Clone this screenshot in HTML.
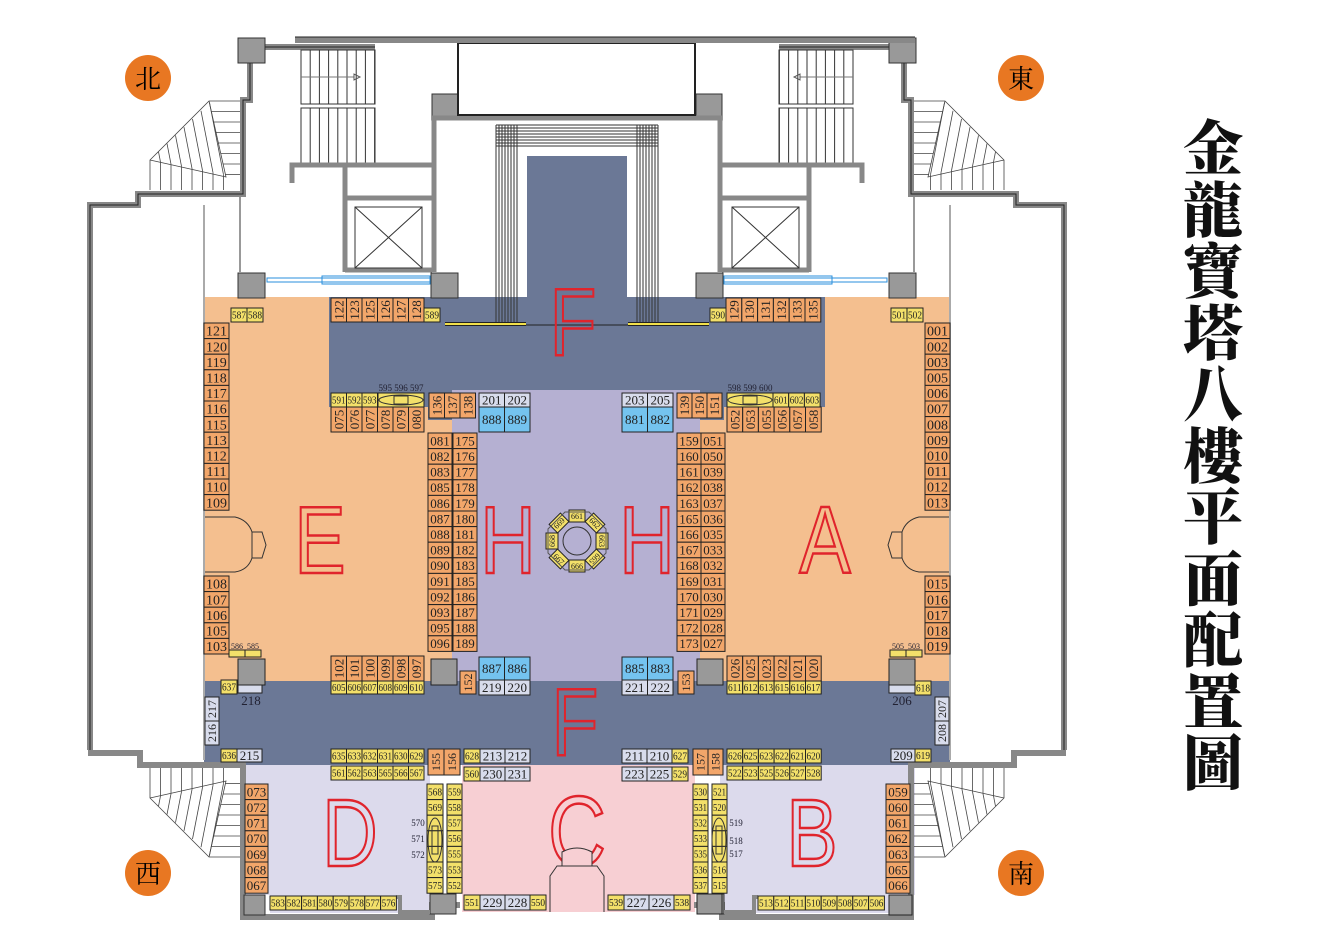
<!DOCTYPE html>
<html><head><meta charset="utf-8"><style>
html,body{margin:0;padding:0;background:#fff;}
#t{position:absolute;left:1178px;top:120px;width:70px;font-family:"Liberation Serif","Noto Serif CJK SC",serif;font-weight:900;font-size:60px;line-height:61.5px;text-align:center;color:#111;}
</style></head><body>
<svg id="s" width="1343" height="948" viewBox="0 0 1343 948" xmlns="http://www.w3.org/2000/svg" style="position:absolute;left:0;top:0;font-family:'Liberation Serif',serif">
<rect x="204" y="297" width="248" height="384" fill="#f4bf8f"/>
<rect x="700" y="297" width="250" height="384" fill="#f4bf8f"/>
<rect x="329" y="297" width="496" height="110" fill="#6b7896"/>
<rect x="428" y="405" width="50" height="15" fill="#6b7896"/>
<rect x="676" y="405" width="48" height="15" fill="#6b7896"/>
<rect x="452" y="390" width="248" height="291" fill="#b5b0d2"/>
<rect x="527" y="156" width="100" height="142" fill="#6b7896"/>
<rect x="204" y="681" width="746" height="84" fill="#6b7896"/>
<rect x="245" y="765" width="185" height="130" fill="#dcdaec"/>
<rect x="462" y="765" width="233" height="147" fill="#f7cfd3"/>
<rect x="720" y="765" width="195" height="130" fill="#dcdaec"/>
<rect x="270" y="893" width="160" height="20" fill="#dcdaec"/>
<rect x="722" y="893" width="167" height="20" fill="#dcdaec"/>
<g id="half" fill="none" stroke="#333" stroke-width="1">
 <polyline points="90,750 90,205 138,205 138,194 243,194 243,100 250,100 250,47 375,47" stroke="#888" stroke-width="6" fill="none"/>
 <polyline points="90,750 90,205 138,205 138,194 243,194 243,100 250,100 250,47 375,47" stroke="#222" stroke-width="1" fill="none"/>
 <polyline points="88,753 140,753 140,765 243,765 243,917 432,917 432,905 460,905" stroke="#888" stroke-width="6" fill="none"/>
 <line x1="204" y1="205" x2="204" y2="760" stroke="#aaa" stroke-width="2"/>
 <line x1="240" y1="197" x2="240" y2="272" stroke="#333"/>
 <rect x="238" y="38" width="27" height="25" fill="#999" stroke="#333"/>
 <rect x="301" y="50" width="74" height="54" fill="#fff"/>
 <rect x="301" y="108" width="74" height="55" fill="#fff"/>
 <g id="stl"></g>
 <line x1="301" y1="77" x2="354" y2="77" stroke="#777"/>
 <polygon points="354,74 354,80 360,77" fill="none" stroke="#555"/>
 <polyline points="292,183 292,165 432,165" stroke="#888" stroke-width="5"/>
 <line x1="345" y1="165" x2="345" y2="272" stroke="#888" stroke-width="5"/>
 <line x1="345" y1="198" x2="432" y2="198" stroke="#888" stroke-width="5"/>
 <line x1="345" y1="270" x2="432" y2="270" stroke="#888" stroke-width="5"/>
 <line x1="434" y1="120" x2="434" y2="272" stroke="#888" stroke-width="5"/>
 <rect x="355" y="207" width="67" height="61" fill="#fff"/>
 <line x1="355" y1="207" x2="422" y2="268"/><line x1="422" y1="207" x2="355" y2="268"/>
 <rect x="238" y="273" width="27" height="25" fill="#999"/>
 <rect x="431" y="273" width="27" height="25" fill="#999"/>
 <rect x="267" y="278" width="163" height="4" stroke="#2a8fdc"/>
 <rect x="322" y="276" width="108" height="8" stroke="#2a8fdc"/>
 <rect x="432" y="94" width="26" height="26" fill="#999"/>
 <line x1="432" y1="118" x2="577" y2="118" stroke="#888" stroke-width="5"/>
 <g id="cur"></g>
 <line x1="445" y1="324" x2="526" y2="324" stroke="#222" stroke-width="4"/>
 <line x1="445" y1="324" x2="526" y2="324" stroke="#f2e04a" stroke-width="2"/>
 <line x1="526" y1="325" x2="577" y2="325" stroke="#222"/>
 <g id="fan" stroke="#444" stroke-width="0.8"></g>
 <path d="M205,517 L235,517 Q248,520 252,532 L262,532 L266,545 L262,558 L252,558 Q248,570 235,572 L205,572" stroke="#333"/>
 <line x1="252" y1="532" x2="252" y2="558"/>
 <rect x="244" y="895" width="21" height="20" fill="#999"/>
 <rect x="430" y="894" width="26" height="20" fill="#999"/>
 <polyline points="396,897 400,897 400,912 430,912" stroke="#888" stroke-width="4"/>
</g>
<use href="#half" transform="translate(1154,0) scale(-1,1)"/>
<rect x="458" y="43" width="237" height="72" fill="#fff" stroke="#222" stroke-width="2"/>
<line x1="295" y1="40" x2="915" y2="40" stroke="#888" stroke-width="6"/>
<line x1="295" y1="37" x2="915" y2="37" stroke="#222" stroke-width="1"/>
<g id="cells"></g>
<polygon points="565,512 589,512 606,529 606,553 589,570 565,570 548,553 548,529" fill="none" stroke="#555"/>
<circle cx="577" cy="541" r="14" fill="#b5b0d2" stroke="#333"/>
<g fill="none" stroke="#e0242c" stroke-width="2.5" font-family="Liberation Sans,sans-serif" font-size="96" text-anchor="middle">
<text x="320" y="573" transform="translate(320,0) scale(0.8,1) translate(-320,0)">E</text>
<text x="508" y="573" transform="translate(508,0) scale(0.8,1) translate(-508,0)">H</text>
<text x="647" y="573" transform="translate(647,0) scale(0.8,1) translate(-647,0)">H</text>
<text x="825" y="573" transform="translate(825,0) scale(0.8,1) translate(-825,0)">A</text>
<text x="573" y="355" transform="translate(573,0) scale(0.8,1) translate(-573,0)">F</text>
<text x="575" y="755" transform="translate(575,0) scale(0.8,1) translate(-575,0)">F</text>
<text x="350" y="866" transform="translate(350,0) scale(0.8,1) translate(-350,0)">D</text>
<text x="577" y="866" font-size="100" transform="translate(577,0) scale(0.8,1) translate(-577,0)">C</text>
<text x="812" y="866" transform="translate(812,0) scale(0.8,1) translate(-812,0)">B</text>
</g>
<path d="M562,866 L562,852 Q577,844 592,852 L592,866 L562,866 M550,912 L550,876 L557,866 L597,866 L604,876 L604,912" fill="#f7cfd3" stroke="#333"/>
<g font-family="Liberation Serif,'Noto Serif CJK SC',serif" font-size="26" text-anchor="middle">
<circle cx="148" cy="78" r="23" fill="#e87722"/><text x="148" y="88">北</text>
<circle cx="1021" cy="78" r="23" fill="#e87722"/><text x="1021" y="88">東</text>
<circle cx="148" cy="873" r="23" fill="#e87722"/><text x="148" y="883">西</text>
<circle cx="1021" cy="873" r="23" fill="#e87722"/><text x="1021" y="883">南</text>
</g>
</svg>
<div id="t">金<br>龍<br>寶<br>塔<br>八<br>樓<br>平<br>面<br>配<br>置<br>圖</div>
<script>
var NS="http://www.w3.org/2000/svg";
function el(p,n,a,t){var e=document.createElementNS(NS,n);for(var k in a)e.setAttribute(k,a[k]);if(t!==undefined)e.textContent=t;p.appendChild(e);return e;}
var G=document.getElementById("cells");
var O="#f2a66a",Y="#f3e06a",L="#d8dcec",B="#74c3ef";
function cell(x,y,w,h,lab,f,fs,rot){
 el(G,"rect",{x:x,y:y,width:w,height:h,fill:f,stroke:"#222","stroke-width":1});
 if(lab==="")return;
 var cx=x+w/2,cy=y+h/2;
 var a={x:cx,y:cy+fs*0.35,"font-size":fs,"text-anchor":"middle",fill:"#222"};
 if(rot)a.transform="rotate(-90 "+cx+" "+cy+")";
 if(f==Y){a.textLength=Math.min(rot?h-2:w-2,fs*1.6);a.lengthAdjust="spacingAndGlyphs";}
 el(G,"text",a,lab);
}
function col(x,y,w,h,labs,f,fs){labs.forEach(function(l,i){cell(x,y+i*h,w,h,l,f,fs,false);});}
function row(x,y,w,h,labs,f,fs,rot){labs.forEach(function(l,i){cell(x+i*w,y,w,h,l,f,fs,rot);});}
function txt(x,y,s,fs){el(G,"text",{x:x,y:y,"font-size":fs,"text-anchor":"middle",fill:"#223"},s);}
var sh=15.6;
col(204,323,25,sh,["121","120","119","118","117","116","115","113","112","111","110","109"],O,14);
col(204,576,25,sh,["108","107","106","105","103"],O,14);
col(925,323,25,sh,["001","002","003","005","006","007","008","009","010","011","012","013"],O,14);
col(925,576,25,sh,["015","016","017","018","019"],O,14);
row(231,308,16,14,["587","588"],Y,10);
row(891,308,16,14,["501","502"],Y,10);
row(331,298,15.5,24,["122","123","125","126","127","128"],O,13,true);
cell(424,308,16,14,"589",Y,10);
cell(710,308,16,14,"590",Y,10);
row(726,298,15.8,24,["129","130","131","132","133","135"],O,13,true);
row(331,393,15.5,14,["591","592","593"],Y,10);
cell(378,393,46,14,"",Y,10);
el(G,"ellipse",{cx:401,cy:400,rx:22,ry:5,fill:"none",stroke:"#333"});
el(G,"rect",{x:394,y:396,width:14,height:8,fill:"none",stroke:"#333"});
txt(401,391,"595 596 597",9);
row(331,407,15.5,25,["075","076","077","078","079","080"],O,13,true);
cell(727,393,46,14,"",Y,10);
el(G,"ellipse",{cx:750,cy:400,rx:22,ry:5,fill:"none",stroke:"#333"});
el(G,"rect",{x:743,y:396,width:14,height:8,fill:"none",stroke:"#333"});
txt(750,391,"598 599 600",9);
row(773,393,15.7,14,["601","602","603"],Y,10);
row(727,407,15.7,25,["052","053","055","056","057","058"],O,13,true);
row(429,393,15.5,25,["136","137","138"],O,13,true);
row(677,393,15,25,["139","150","151"],O,13,true);
row(479,393,25.5,14,["201","202"],L,13);
row(479,407,25.5,25,["888","889"],B,13);
row(622,393,25.5,14,["203","205"],L,13);
row(622,407,25.5,25,["881","882"],B,13);
col(428,433,24,sh,["081","082","083","085","086","087","088","089","090","091","092","093","095","096"],O,13);
col(453,433,24,sh,["175","176","177","178","179","180","181","182","183","185","186","187","188","189"],O,13);
col(677,433,24,sh,["159","160","161","162","163","165","166","167","168","169","170","171","172","173"],O,13);
col(701,433,24,sh,["051","050","039","038","037","036","035","033","032","031","030","029","028","027"],O,13);
row(479,657,25.5,23,["887","886"],B,13);
row(479,680,25.5,15,["219","220"],L,13);
row(622,657,25.5,23,["885","883"],B,13);
row(622,680,25.5,15,["221","222"],L,13);
cell(431,659,26,26,"","#999",10);cell(697,659,26,26,"","#999",10);
cell(460,671,16,23,"152",O,12,true);cell(678,671,16,23,"153",O,12,true);
row(331,656,15.5,25,["102","101","100","099","098","097"],O,13,true);
row(331,681,15.5,13,["605","606","607","608","609","610"],Y,10);
row(727,656,15.7,25,["026","025","023","022","021","020"],O,13,true);
row(727,681,15.7,13,["611","612","613","615","616","617"],Y,10);
row(229,650,16,7,["",""],Y,8);txt(237,649,"586",8);txt(253,649,"585",8);
cell(238,659,27,26,"","#999",10);cell(238,685,24,8,"",L,8);txt(251,705,"218",13);
cell(221,680,16,14,"637",Y,10);
col(205,697,14,24,["",""],L,12);
el(G,"text",{x:212,y:713,"font-size":12,"text-anchor":"middle",transform:"rotate(-90 212 709)",fill:"#222"},"217");
el(G,"text",{x:212,y:737,"font-size":12,"text-anchor":"middle",transform:"rotate(-90 212 733)",fill:"#222"},"216");
cell(221,749,16,13,"636",Y,10);cell(237,749,25,13,"215",L,13);
row(890,650,16,7,["",""],Y,8);txt(898,649,"505",8);txt(914,649,"503",8);
cell(889,659,26,26,"","#999",10);cell(889,685,26,8,"",L,8);txt(902,705,"206",13);
cell(915,681,16,14,"618",Y,10);
col(935,697,14,24,["",""],L,12);
el(G,"text",{x:942,y:713,"font-size":12,"text-anchor":"middle",transform:"rotate(-90 942 709)",fill:"#222"},"207");
el(G,"text",{x:942,y:737,"font-size":12,"text-anchor":"middle",transform:"rotate(-90 942 733)",fill:"#222"},"208");
cell(891,749,24,13,"209",L,13);cell(915,749,16,13,"619",Y,10);
row(331,749,15.5,14,["635","633","632","631","630","629"],Y,10);
row(331,766,15.5,14,["561","562","563","565","566","567"],Y,10);
row(428,749,16,26,["155","156"],O,12,true);
row(693,749,15,26,["157","158"],O,12,true);
cell(464,749,16,14,"628",Y,10);row(480,749,25,14,["213","212"],L,13);
cell(464,767,16,14,"560",Y,10);row(480,767,25,14,["230","231"],L,13);
row(622,749,25,14,["211","210"],L,13);cell(672,749,16,14,"627",Y,10);
row(622,767,25,14,["223","225"],L,13);cell(672,767,16,14,"529",Y,10);
row(727,749,15.7,14,["626","625","623","622","621","620"],Y,10);
row(727,766,15.7,14,["522","523","525","526","527","528"],Y,10);
col(245,784,23,sh,["073","072","071","070","069","068","067"],O,13);
col(886,784,24,sh,["059","060","061","062","063","065","066"],O,13);
col(427,784,16,sh,["568","569","","","","573","575"],Y,10);
el(G,"ellipse",{cx:435,cy:840,rx:7,ry:22,fill:"none",stroke:"#333"});
el(G,"rect",{x:432,y:826,width:6,height:28,fill:"none",stroke:"#333"});
txt(418,826,"570",9);txt(418,842,"571",9);txt(418,858,"572",9);
col(447,784,15,sh,["559","558","557","556","555","553","552"],Y,10);
col(693,784,15,sh,["530","531","532","533","535","536","537"],Y,10);
col(712,784,15,sh,["521","520","","","","516","515"],Y,10);
el(G,"ellipse",{cx:719,cy:840,rx:7,ry:22,fill:"none",stroke:"#333"});
el(G,"rect",{x:716,y:826,width:6,height:28,fill:"none",stroke:"#333"});
txt(736,826,"519",9);txt(736,844,"518",9);txt(736,857,"517",9);
row(270,896,15.8,14,["583","582","581","580","579","578","577","576"],Y,10);
row(758,896,15.8,14,["513","512","511","510","509","508","507","506"],Y,10);
cell(464,895,16,15,"551",Y,10);row(480,895,25,15,["229","228"],L,13);cell(530,895,16,15,"550",Y,10);
cell(608,895,16,15,"539",Y,10);row(624,895,25,15,["227","226"],L,13);cell(674,895,16,15,"538",Y,10);
cell(697,894,25,20,"","#999",10);cell(889,895,23,20,"","#999",10);
var oc=[["661",577,516,0],["662",595,523,45],["663",602,541,90],["665",595,559,135],["666",577,566,0],["667",559,559,45],["668",552,541,-90],["669",559,523,-45]];
oc.forEach(function(o){var g=el(G,"g",{transform:"translate("+o[1]+" "+o[2]+") rotate("+o[3]+")"});
 el(g,"rect",{x:-8,y:-6,width:16,height:12,fill:Y,stroke:"#222"});
 el(g,"text",{x:0,y:3,"font-size":8,"text-anchor":"middle",fill:"#222"},o[0]);});
var st=document.getElementById("stl");
for(var x=301;x<=375;x+=9.2){el(st,"line",{x1:x,y1:50,x2:x,y2:104});el(st,"line",{x1:x,y1:108,x2:x,y2:163});}
var cu=document.getElementById("cur");
for(var i=0;i<8;i++){var xx=496+i*3;el(cu,"line",{x1:xx,y1:125,x2:xx,y2:322});}
for(var i=0;i<8;i++){var yy=125+i*3;el(cu,"line",{x1:496,y1:yy,x2:577,y2:yy});}
var fa=document.getElementById("fan");
function fan(sy){
 function Y_(y){return sy>0?y:(958-y);}
 el(fa,"polyline",{points:"150,"+Y_(190)+" 150,"+Y_(160)+" 209,"+Y_(101)+" 240,"+Y_(101)});
 el(fa,"polyline",{points:"209,"+Y_(101)+" 226,"+Y_(177)+" 150,"+Y_(160)});
 for(var k=1;k<8;k++){var y=101+k*10.5;el(fa,"line",{x1:209+k*2.3,y1:Y_(y),x2:240,y2:Y_(y)});}
 for(var k=1;k<8;k++){var x=150+k*10.5;el(fa,"line",{x1:x,y1:Y_(160+k*2.1),x2:x,y2:Y_(190)});}
 for(var k=1;k<8;k++){el(fa,"line",{x1:150+k*8.5,y1:Y_(160-k*8.2),x2:150+k*10.5,y2:Y_(160+k*2.1)});}
}
fan(1);fan(-1);
</script>
</body></html>
